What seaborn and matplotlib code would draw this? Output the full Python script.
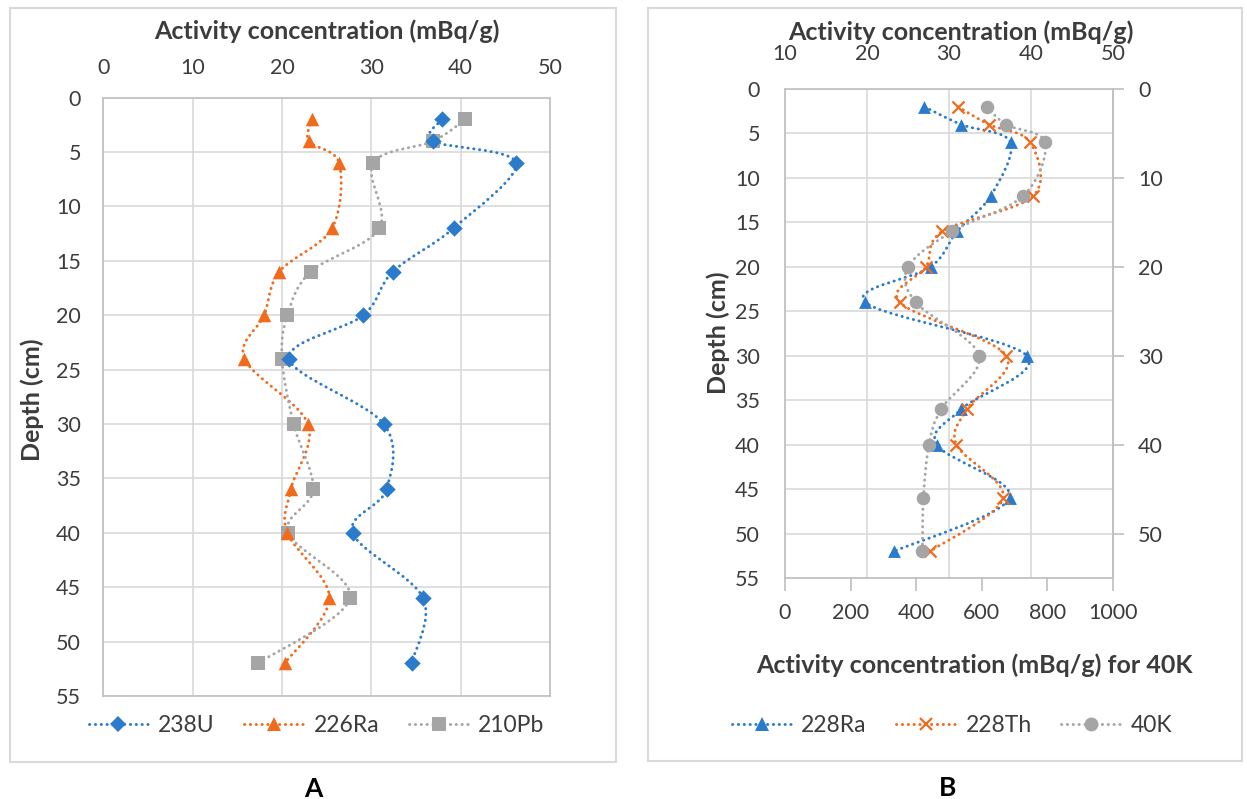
import numpy as np
import pandas as pd
import matplotlib
matplotlib.use("Agg")
import matplotlib.pyplot as plt
import seaborn as sns
from matplotlib.path import Path
from matplotlib.patches import PathPatch, Rectangle
from matplotlib.lines import Line2D

# ---------------- data ----------------
depth = [2, 4, 6, 12, 16, 20, 24, 30, 36, 40, 46, 52]

# Panel A (mBq/g)
u238 = [37.9, 36.9, 46.2, 39.2, 32.4, 29.1, 20.8, 31.4, 31.7, 27.9, 35.8, 34.5]
ra226 = [23.4, 23.0, 26.4, 25.6, 19.7, 18.0, 15.8, 22.9, 21.0, 20.6, 25.3, 20.3]
pb210 = [40.5, 36.9, 30.2, 30.9, 23.2, 20.6, 20.0, 21.3, 23.5, 20.7, 27.6, 17.3]

# Panel B (mBq/g); 40K on the bottom axis
ra228 = [27.0, 31.5, 37.5, 35.1, 31.0, 27.8, 19.8, 39.5, 31.5, 28.5, 37.4, 23.3]
th228 = [31.1, 34.9, 39.9, 40.3, 29.2, 27.2, 24.0, 37.0, 32.2, 30.9, 36.6, 27.7]
k40 = [615, 674, 793, 727, 510, 376, 399, 592, 476, 439, 422, 419]

labels_a = ["238U", "226Ra", "210Pb"]
labels_b = ["228Ra", "228Th", "40K"]

# ---------------- style ----------------
sns.set_style("white")
plt.rcParams["font.family"] = ["Lato", "DejaVu Sans"]
TXT = "#3C3C3C"
BLUE = "#2A7BCB"
ORANGE = "#F26A1B"
GRAY = "#A5A5A5"
GRID = "#D9D9D9"
SPINE = "#BFBFBF"
FS = 15.5
TFS = 18
LFS = 16.5

W, H = 1247, 799
fig = plt.figure(figsize=(W / 100, H / 100), dpi=100)
fig.patch.set_facecolor("white")


def fx(px):
    return px / W


def fy(py):
    return 1 - py / H


DOT = (0, (0.1, 1.9))


def smooth_line(ax, xs, ys, color, lw=2.1, z=2):
    pts = ax.transData.transform(np.column_stack([xs, ys]))
    n = len(pts)
    verts = [pts[0]]
    codes = [Path.MOVETO]
    for i in range(n - 1):
        p0 = pts[i - 1] if i > 0 else pts[i]
        p1 = pts[i]
        p2 = pts[i + 1]
        p3 = pts[i + 2] if i + 2 < n else pts[i + 1]
        c1 = p1 + (p2 - p0) / 6.0
        c2 = p2 - (p3 - p1) / 6.0
        verts += [c1, c2, p2]
        codes += [Path.CURVE4] * 3
    verts = ax.transAxes.inverted().transform(np.array(verts))
    patch = PathPatch(Path(verts, codes), transform=ax.transAxes, fill=False,
                      edgecolor=color, lw=lw, linestyle=DOT, capstyle="round",
                      zorder=z, clip_on=False)
    ax.add_patch(patch)


def style_axes(ax):
    for s in ax.spines.values():
        s.set_color(SPINE)
        s.set_linewidth(1.2)
    ax.grid(True, color=GRID, lw=1.2)
    ax.set_axisbelow(True)


# ---------------- panel A ----------------
axA = fig.add_axes([fx(103.3), fy(696), fx(550 - 103.3), (696 - 97.7) / H])
dfA = pd.DataFrame({"depth": depth, "u": u238, "ra": ra226, "pb": pb210})
sns.scatterplot(data=dfA, x="u", y="depth", ax=axA, marker="D", s=70,
                color=BLUE, edgecolor=BLUE, linewidth=0, zorder=4)
sns.scatterplot(data=dfA, x="ra", y="depth", ax=axA, marker="^", s=95,
                color=ORANGE, edgecolor=ORANGE, linewidth=0, zorder=4)
sns.scatterplot(data=dfA, x="pb", y="depth", ax=axA, marker="s", s=95,
                color=GRAY, edgecolor=GRAY, linewidth=0, zorder=3)
axA.set_xlim(0, 50)
axA.set_ylim(55, 0)
axA.set_xticks(np.arange(0, 51, 10))
axA.set_yticks(np.arange(0, 56, 5))
axA.xaxis.tick_top()
axA.tick_params(axis="x", length=0, pad=14, labelsize=FS, labelcolor=TXT)
axA.tick_params(axis="y", length=0, pad=16, labelsize=FS, labelcolor=TXT)
axA.set_xlabel("")
axA.set_ylabel("")
style_axes(axA)
smooth_line(axA, dfA["u"], dfA["depth"], BLUE)
smooth_line(axA, dfA["ra"], dfA["depth"], ORANGE)
smooth_line(axA, dfA["pb"], dfA["depth"], GRAY)

# ---------------- panel B ----------------
axB = fig.add_axes([fx(785), fy(578), fx(1113 - 785), (578 - 89) / H])
axK = axB.twiny()
dfB = pd.DataFrame({"depth": depth, "ra": ra228, "th": th228, "k": k40})
sns.scatterplot(data=dfB, x="k", y="depth", ax=axK, marker="o", s=95,
                color=GRAY, edgecolor=GRAY, linewidth=0, zorder=3)
sns.scatterplot(data=dfB, x="ra", y="depth", ax=axB, marker="^", s=85,
                color=BLUE, edgecolor=BLUE, linewidth=0, zorder=4)
sns.scatterplot(data=dfB, x="th", y="depth", ax=axB, marker="x", s=75,
                color=ORANGE, linewidth=1.6, zorder=5)

axB.set_xlim(10, 50)
axB.set_ylim(55, 0)
axB.set_xticks(np.arange(10, 51, 10))
axB.set_yticks(np.arange(0, 56, 5))
axB.xaxis.tick_top()
axB.xaxis.set_label_position("top")
axB.tick_params(axis="x", length=0, pad=18, labelsize=FS, labelcolor=TXT)
axB.tick_params(axis="y", length=0, pad=18, labelsize=FS, labelcolor=TXT)
axB.set_xlabel("")
axB.set_ylabel("")
style_axes(axB)

axK.set_xlim(0, 1000)
axK.set_xticks(np.arange(0, 1001, 200))
axK.xaxis.tick_bottom()
axK.xaxis.set_label_position("bottom")
axK.tick_params(axis="x", length=9, width=1.2, color=SPINE, pad=9,
                labelsize=FS, labelcolor=TXT)
axK.set_xlabel("")
axK.set_ylabel("")
for s in axK.spines.values():
    s.set_visible(False)
axK.grid(False)
axK.patch.set_visible(False)

sec = axB.secondary_yaxis("right")
sec.set_yticks(np.arange(0, 51, 10))
sec.tick_params(axis="y", length=8, width=1.2, color=SPINE, pad=10,
                labelsize=FS, labelcolor=TXT)
sec.spines["right"].set_color(SPINE)
sec.spines["right"].set_linewidth(1.2)

smooth_line(axB, dfB["ra"], dfB["depth"], BLUE)
smooth_line(axB, dfB["th"], dfB["depth"], ORANGE)
smooth_line(axK, dfB["k"], dfB["depth"], GRAY)

# ---------------- titles / labels ----------------
fig.text(fx(326.5), fy(31.7), "Activity concentration (mBq/g)", ha="center",
         va="center", fontsize=TFS, color=TXT, fontweight="bold")
fig.text(fx(32), fy(400), "Depth (cm)", ha="center", va="center",
         rotation=90, fontsize=TFS, color=TXT, fontweight="bold")
fig.text(fx(961), fy(32), "Activity concentration (mBq/g)", ha="center",
         va="center", fontsize=TFS, color=TXT, fontweight="bold")
fig.text(fx(718), fy(333), "Depth (cm)", ha="center", va="center",
         rotation=90, fontsize=TFS, color=TXT, fontweight="bold")
fig.text(fx(974), fy(665), "Activity concentration (mBq/g) for 40K",
         ha="center", va="center", fontsize=TFS, color=TXT, fontweight="bold")
fig.text(fx(313), fy(789), "A", ha="center", va="center", fontsize=19,
         color="black", fontweight="bold")
fig.text(fx(948), fy(788), "B", ha="center", va="center", fontsize=19,
         color="black", fontweight="bold")


# ---------------- legends ----------------
def handle(color, marker, ms, mew=0):
    return Line2D([], [], color=color, lw=2.1, linestyle=DOT,
                  dash_capstyle="round", marker=marker, markersize=ms,
                  markerfacecolor=color, markeredgecolor=color,
                  markeredgewidth=mew)


hA = [handle(BLUE, "D", 8), handle(ORANGE, "^", 10), handle(GRAY, "s", 10)]
hB = [handle(BLUE, "^", 10), handle(ORANGE, "x", 9, 1.6), handle(GRAY, "o", 10)]
common = dict(loc="center", ncol=3, frameon=False, fontsize=LFS,
              handlelength=2.6, handletextpad=0.42, columnspacing=1.3,
              numpoints=1, labelcolor=TXT)
fig.legend(hA, labels_a, bbox_to_anchor=(fx(316.5), fy(726)), **common)
fig.legend(hB, labels_b, bbox_to_anchor=(fx(952), fy(726)), **common)

# ---------------- chart-area boxes ----------------
for x0, y0, x1, y1 in [(10, 8, 616, 762), (648, 8, 1242, 761)]:
    fig.add_artist(Rectangle((fx(x0), fy(y1)), (x1 - x0) / W, (y1 - y0) / H,
                             transform=fig.transFigure, fill=False,
                             edgecolor=GRID, lw=1.5))

fig.savefig("out.png", dpi=100, facecolor="white")
